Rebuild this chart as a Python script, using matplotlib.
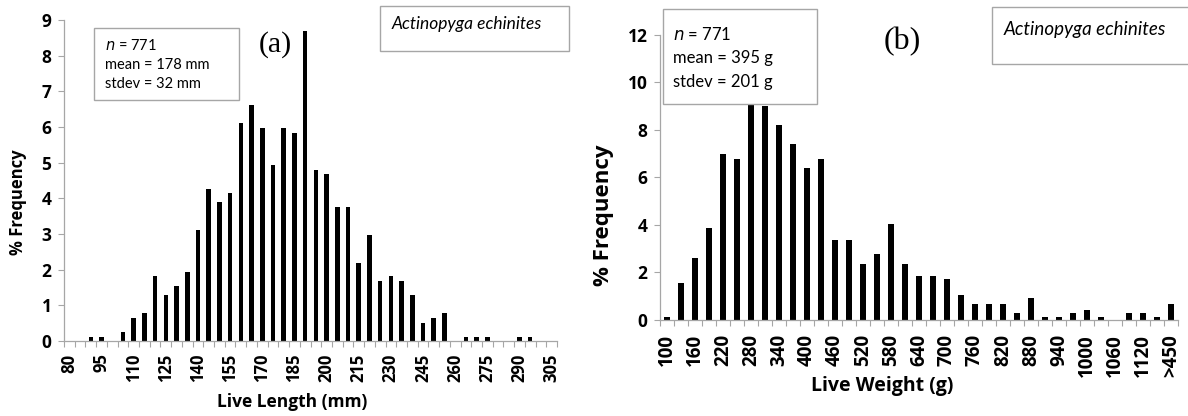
import matplotlib.pyplot as plt
import numpy as np

# ---- data ----
# (a) live length, 5 mm classes from 80 to 305 mm
length_bins = list(range(80, 310, 5))
length_freq = [0, 0, 0.12, 0.12, 0, 0.25, 0.64, 0.78, 1.81, 1.29,
               1.55, 1.93, 3.10, 4.26, 3.89, 4.14, 6.10, 6.62, 5.97, 4.93,
               5.97, 5.84, 8.69, 4.79, 4.67, 3.76, 3.76, 2.20, 2.98, 1.67,
               1.81, 1.67, 1.29, 0.51, 0.64, 0.78, 0, 0.12, 0.12, 0.12,
               0, 0, 0.12, 0.12, 0, 0]

# (b) live weight, 30 g classes from 100 g plus an open last class
weight_bins = [str(v) for v in range(100, 1180, 30)] + ['>450']
weight_freq = [0.13, 1.56, 2.59, 3.89, 7.00, 6.77, 9.20, 9.00, 8.20, 7.40,
               6.38, 6.77, 3.37, 3.37, 2.36, 2.76, 4.05, 2.36, 1.85, 1.85,
               1.72, 1.05, 0.66, 0.66, 0.66, 0.31, 0.94, 0.14, 0.14, 0.31,
               0.42, 0.14, 0, 0.31, 0.31, 0.14, 0.66]

sans = ['Lato', 'DejaVu Sans']
bold = ['Open Sans', 'DejaVu Sans']
serif = ['Liberation Serif', 'DejaVu Serif']
plt.rcParams['font.family'] = sans

fig = plt.figure(figsize=(11.88, 4.16), dpi=100)
ax1 = fig.add_axes([64/1188, 1-341/416, (557-64)/1188, (341-20)/416])
ax2 = fig.add_axes([660/1188, 1-320/416, (1178-660)/1188, (320-34.7)/416])


def style(ax, n, labels, step, xsize, ysize, xpad):
    x = np.arange(n)
    ax.set_xlim(-0.5, n - 0.5)
    for s in ['top', 'right']:
        ax.spines[s].set_visible(False)
    for s in ['left', 'bottom']:
        ax.spines[s].set_color('#a6a6a6')
        ax.spines[s].set_linewidth(0.9)
    # category boundary ticks
    ax.set_xticks(np.arange(n + 1) - 0.5, minor=False)
    ax.set_xticklabels([])
    ax.tick_params(axis='x', which='major', direction='out', length=4,
                   color='#a6a6a6')
    ax.set_xticks(x[::step], minor=True)
    ax.set_xticklabels(labels[::step], minor=True, rotation=90,
                       fontsize=xsize, fontweight='bold', family=bold)
    ax.tick_params(axis='x', which='minor', length=0, pad=xpad)
    ax.tick_params(axis='y', direction='out', length=4, color='#a6a6a6',
                   pad=5)
    for t in ax.get_yticklabels():
        t.set_fontweight('bold')
        t.set_family(bold)
        t.set_fontsize(ysize)


# ---- (a) ----
xa = np.arange(len(length_bins))
ax1.bar(xa, length_freq, width=0.42, color='black', zorder=2)
ax1.set_ylim(0, 9)
ax1.set_yticks(range(0, 10))
style(ax1, len(length_bins), [str(v) for v in length_bins], 3, 12, 12.5, 9)
fig.text(18/1188, 1-202/416, '% Frequency', fontsize=12, fontweight='bold',
         family=bold, rotation=90, ha='center', va='center')
fig.text(292/1188, 1-402/416, 'Live Length (mm)', fontsize=12.5,
         fontweight='bold', family=bold, ha='center', va='center')

box_a = plt.Rectangle((94/1188, 1-100/416), 145/1188, 72/416,
                      transform=fig.transFigure, facecolor='white',
                      edgecolor='#a6a6a6', linewidth=1, zorder=5)
fig.add_artist(box_a)
fig.text(105/1188, 1-45/416, '$\\mathit{n}$ = 771', fontsize=10.5,
         va='center', zorder=6)
fig.text(105/1188, 1-65/416, 'mean = 178 mm', fontsize=10.5, va='center',
         zorder=6)
fig.text(105/1188, 1-84/416, 'stdev = 32 mm', fontsize=10.5, va='center',
         zorder=6)
fig.text(275/1188, 1-45/416, '(a)', family=serif, fontsize=21.5,
         ha='center', va='center')

box_sa = plt.Rectangle((380/1188, 1-51/416), 189/1188, 45/416,
                       transform=fig.transFigure, facecolor='white',
                       edgecolor='#a6a6a6', linewidth=1, zorder=5)
fig.add_artist(box_sa)
fig.text(392/1188, 1-24/416, 'Actinopyga echinites', fontsize=12.5,
         style='italic', va='center', zorder=6)

# ---- (b) ----
xb = np.arange(len(weight_bins))
ax2.bar(xb, weight_freq, width=0.43, color='black', zorder=2)
ax2.set_ylim(0, 12)
ax2.set_yticks(range(0, 13, 2))
style(ax2, len(weight_bins), weight_bins, 2, 13.5, 12.5, 10)
fig.text(604/1188, 1-215/416, '% Frequency', fontsize=16, fontweight='bold',
         family=bold, rotation=90, ha='center', va='center')
fig.text(882/1188, 1-386/416, 'Live Weight (g)', fontsize=14,
         fontweight='bold', family=bold, ha='center', va='center')

box_b = plt.Rectangle((663/1188, 1-104/416), 154/1188, 95/416,
                      transform=fig.transFigure, facecolor='white',
                      edgecolor='#a6a6a6', linewidth=1, zorder=5)
fig.add_artist(box_b)
fig.text(673/1188, 1-34/416, '$\\mathit{n}$ = 771', fontsize=12,
         va='center', zorder=6)
fig.text(673/1188, 1-58/416, 'mean = 395 g', fontsize=12, va='center',
         zorder=6)
fig.text(673/1188, 1-82/416, 'stdev = 201 g', fontsize=12, va='center',
         zorder=6)
fig.text(902/1188, 1-42/416, '(b)', family=serif, fontsize=23, ha='center',
         va='center')

box_sb = plt.Rectangle((992/1188, 1-64/416), 200/1188, 57/416,
                       transform=fig.transFigure, facecolor='white',
                       edgecolor='#a6a6a6', linewidth=1, zorder=5)
fig.add_artist(box_sb)
fig.text(1004/1188, 1-30/416, 'Actinopyga echinites', fontsize=13.5,
         style='italic', va='center', zorder=6)

fig.savefig('out.png', dpi=100)
